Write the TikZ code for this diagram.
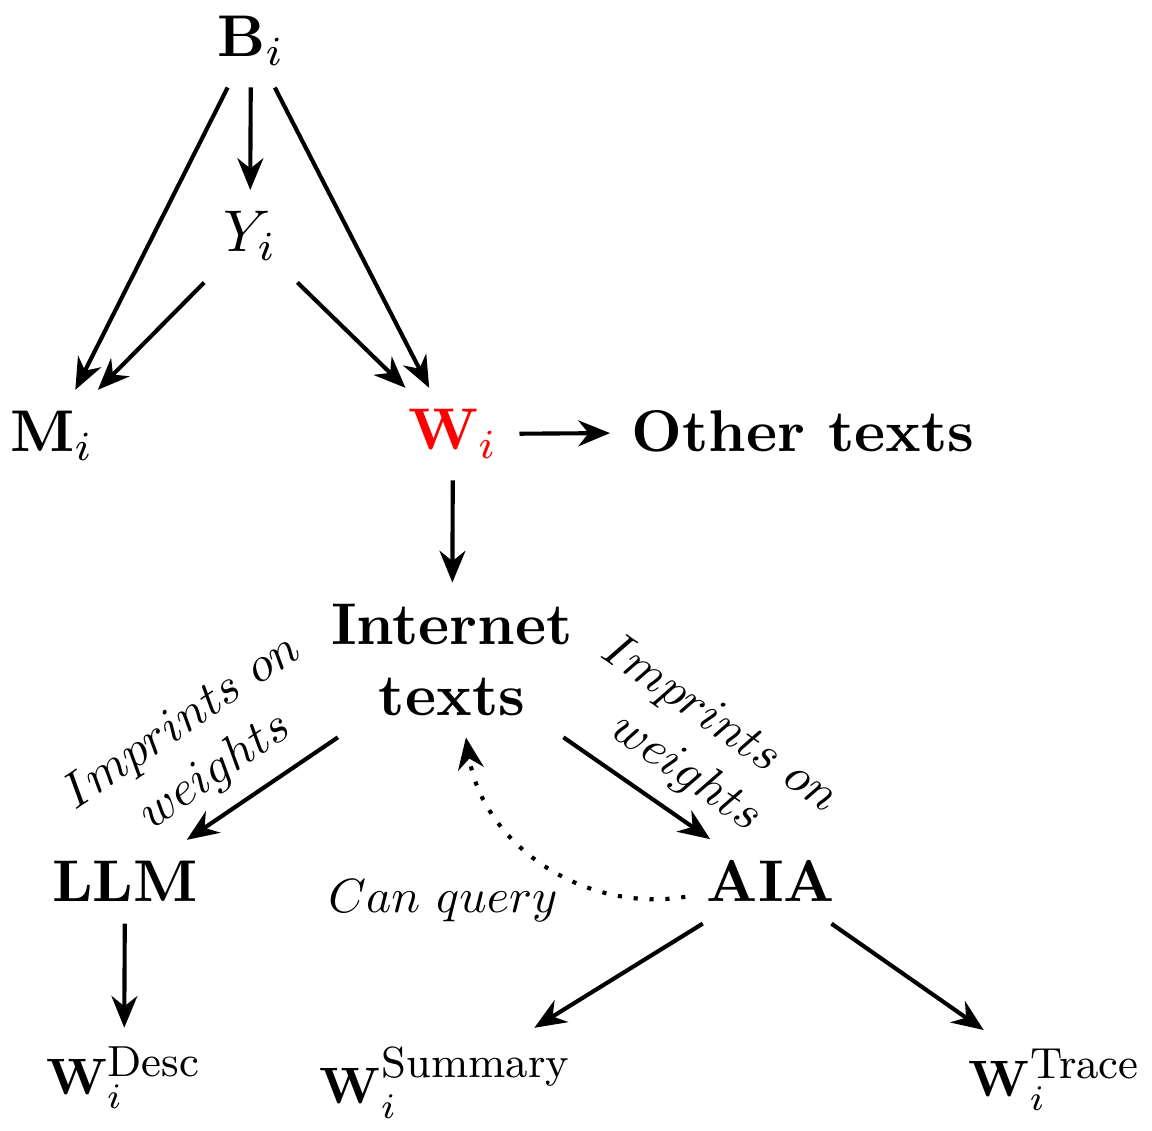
\documentclass[tikz,border=0pt]{standalone}
\usetikzlibrary{arrows.meta}
\newcommand{\supfont}{\fontsize{8.5}{10}\selectfont}
\begin{document}
\begin{tikzpicture}[x=5.968mm,y=5.968mm,line width=0.7pt,
  >={Stealth[length=5.4pt,width=4.4pt]},
  lab/.style={scale=0.84,align=center},
  sm/.style={scale=0.87,anchor=base}]
  \useasboundingbox (0,0) rectangle (11.52,11.31);
  \node[anchor=base] (B) at (2.51,10.74) {$\mathbf{B}_i$};
  \node[anchor=base] (Y) at (2.50,8.79) {$Y_i$};
  \node[anchor=base] (M) at (0.52,6.79) {$\mathbf{M}_i$};
  \node[anchor=base] (W) at (4.53,6.81) {$\color{red}\mathbf{W}_i$};
  \node[anchor=base] (other) at (8.03,6.79) {\textbf{Other texts}};
  \node[align=center] (net) at (4.52,4.71) {\textbf{Internet}\\\textbf{texts}};
  \node[anchor=base] (llm) at (1.25,2.29) {\textbf{LLM}};
  \node[anchor=base] (aia) at (7.71,2.29) {\textbf{AIA}};
  \node[sm] (desc) at (1.24,0.36) {$\mathbf{W}_i^{\mbox{\supfont Desc}}$};
  \node[sm] (summ) at (4.46,0.27) {$\mathbf{W}_i^{\mbox{\supfont Summary}}$};
  \node[sm] (trace) at (10.55,0.34) {$\mathbf{W}_i^{\mbox{\supfont Trace}}$};
  \node[lab,scale=0.97,anchor=base] (query) at (4.43,2.18) {$Can\ query$};
  \foreach \a/\b in {B/M,B/Y,B/W,Y/M,Y/W,W/other,W/net,llm/desc,aia/summ,aia/trace}
    \draw[->] (\a) -- (\b);
  \draw[->] (net) -- node[lab,sloped,above,pos=0.66]{$Imprints\ on$\\$weights$} (llm);
  \draw[->] (net) -- node[lab,sloped,above,pos=0.68]{$Imprints\ on$\\$weights$} (aia);
  \draw[->,dotted] (aia) to[bend left=45] (net);
\end{tikzpicture}
\end{document}
